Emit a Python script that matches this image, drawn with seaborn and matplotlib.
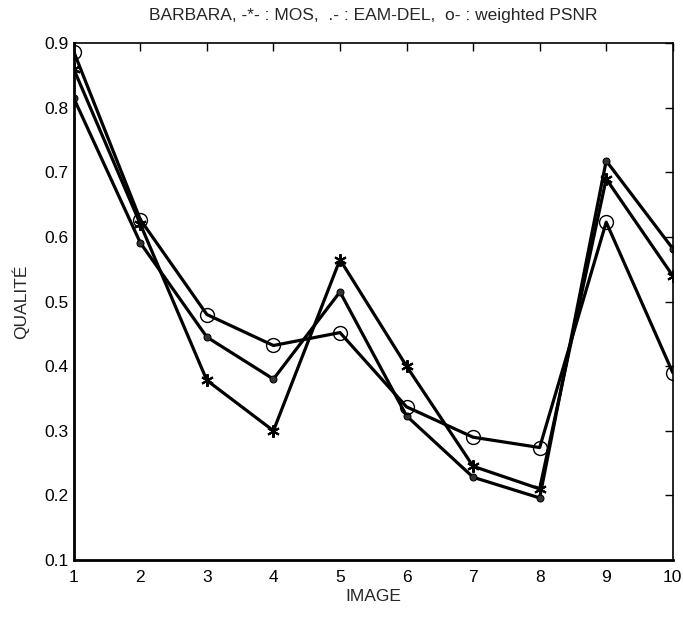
import numpy as np
import pandas as pd
import matplotlib
matplotlib.use("Agg")
import matplotlib.pyplot as plt
import seaborn as sns

# values
images = [1, 2, 3, 4, 5, 6, 7, 8, 9, 10]
mos = [0.860, 0.620, 0.378, 0.300, 0.565, 0.400, 0.245, 0.210, 0.690, 0.540]
eam_del = [0.815, 0.591, 0.445, 0.380, 0.515, 0.323, 0.228, 0.196, 0.718, 0.582]
weighted_psnr = [0.887, 0.627, 0.480, 0.432, 0.452, 0.337, 0.290, 0.274, 0.623, 0.390]

y_ticks = [0.1, 0.2, 0.3, 0.4, 0.5, 0.6, 0.7, 0.8, 0.9]

sns.set_style("white")
plt.rcParams['font.family'] = ['Liberation Sans', 'DejaVu Sans']

df = pd.DataFrame({
    'IMAGE': images * 3,
    'Q': mos + eam_del + weighted_psnr,
    'method': ['MOS'] * 10 + ['EAM-DEL'] * 10 + ['weighted PSNR'] * 10,
})

fig = plt.figure(figsize=(6.83, 6.18), dpi=100)
ax = fig.add_axes([0.108, 0.094, 0.877, 0.836])

styles = {
    'MOS': dict(marker=(6, 2, 0), markersize=9, markeredgewidth=1.5),
    'EAM-DEL': dict(marker='o', markersize=5, markerfacecolor='#333333'),
    'weighted PSNR': dict(marker='o', markersize=10, markerfacecolor='none', markeredgewidth=1.0),
}
for name, kw in styles.items():
    sub = df[df['method'] == name]
    sns.lineplot(data=sub, x='IMAGE', y='Q', ax=ax, color='black', linewidth=2.3,
                 markeredgecolor='black', **kw)

ax.set_xlim(1, 10)
ax.set_ylim(0.1, 0.9)
ax.set_xticks(images)
ax.set_yticks(y_ticks)
ax.set_yticklabels([f"{v:.1f}" for v in y_ticks])
ax.tick_params(direction='in', length=6, width=1, top=True, right=True, labelsize=12.5, colors='black')
ax.tick_params(axis='x', pad=7)
for s in ax.spines.values():
    s.set_color('black')
    s.set_linewidth(1.2)
ax.spines['left'].set_linewidth(2)
ax.spines['bottom'].set_linewidth(2)

ax.set_xlabel("IMAGE", fontsize=12.5, labelpad=3)
ax.set_ylabel("QUALITÉ", fontsize=12.5, labelpad=11)
ax.set_title("BARBARA, -*- : MOS,  .- : EAM-DEL,  o- : weighted PSNR", fontsize=12.5, pad=17)

fig.savefig("out.png", dpi=100)
